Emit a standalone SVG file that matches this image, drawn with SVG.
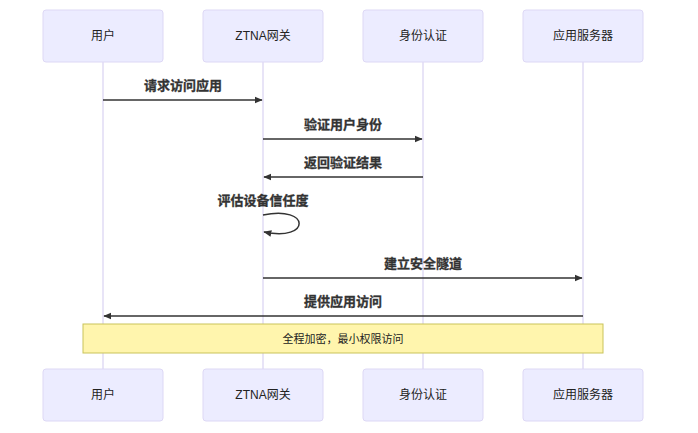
<svg xmlns="http://www.w3.org/2000/svg" width="698" height="433" viewBox="0 0 698 433">
<style>
.actor{fill:#ececff;stroke:#ddd8f5;stroke-width:1}
.lbl{font-family:"Liberation Sans","Noto Sans CJK SC",sans-serif;font-size:12px;fill:#222;text-anchor:middle;dominant-baseline:central}
.life{stroke:#e0dbf5;stroke-width:1.5}
.msg{stroke:#333;stroke-width:1.5;fill:none}
.mt{font-family:"Liberation Sans","Noto Sans CJK SC",sans-serif;font-size:13px;font-weight:bold;fill:#333;stroke:#333;stroke-width:0.3;text-anchor:middle}
.note{fill:#fff5ad;stroke:#c9c35a;stroke-width:1}
</style>
<defs>
<marker id="ah" viewBox="0 0 12 12" refX="11" refY="6" markerWidth="8" markerHeight="8" markerUnits="userSpaceOnUse" orient="auto">
<path d="M0,1 L12,6 L0,11 z" fill="#333"/>
</marker>
</defs>
<g id="lifelines">
<line class="life" x1="103" y1="62" x2="103" y2="369"/>
<line class="life" x1="263" y1="62" x2="263" y2="369"/>
<line class="life" x1="423" y1="62" x2="423" y2="369"/>
<line class="life" x1="583" y1="62" x2="583" y2="369"/>
</g>
<g id="user-top"><rect class="actor" x="43" y="10" width="120" height="52" rx="3"/><text class="lbl" x="103" y="36">用户</text></g>
<g id="ztna-top"><rect class="actor" x="203" y="10" width="120" height="52" rx="3"/><text class="lbl" x="263" y="36">ZTNA网关</text></g>
<g id="auth-top"><rect class="actor" x="363" y="10" width="120" height="52" rx="3"/><text class="lbl" x="423" y="36">身份认证</text></g>
<g id="app-top"><rect class="actor" x="523" y="10" width="120" height="52" rx="3"/><text class="lbl" x="583" y="36">应用服务器</text></g>
<g id="connectors">
<line class="msg" x1="103" y1="100" x2="262" y2="100" marker-end="url(#ah)"/>
<text class="mt" x="183" y="90">请求访问应用</text>
<line class="msg" x1="263" y1="139" x2="422" y2="139" marker-end="url(#ah)"/>
<text class="mt" x="343" y="129">验证用户身份</text>
<line class="msg" x1="423" y1="177" x2="264" y2="177" marker-end="url(#ah)"/>
<text class="mt" x="343" y="167">返回验证结果</text>
<path class="msg" d="M263,215 C311,205 311,242 264,232" marker-end="url(#ah)"/>
<text class="mt" x="263" y="205">评估设备信任度</text>
<line class="msg" x1="263" y1="278" x2="582" y2="278" marker-end="url(#ah)"/>
<text class="mt" x="423" y="268">建立安全隧道</text>
<line class="msg" x1="583" y1="316" x2="104" y2="316" marker-end="url(#ah)"/>
<text class="mt" x="343" y="306">提供应用访问</text>
</g>
<g id="note"><rect class="note" x="83" y="324" width="520" height="29"/><text class="lbl" x="343" y="339" style="font-size:11px">全程加密，最小权限访问</text></g>
<g id="user-bottom"><rect class="actor" x="43" y="369" width="120" height="52" rx="3"/><text class="lbl" x="103" y="395">用户</text></g>
<g id="ztna-bottom"><rect class="actor" x="203" y="369" width="120" height="52" rx="3"/><text class="lbl" x="263" y="395">ZTNA网关</text></g>
<g id="auth-bottom"><rect class="actor" x="363" y="369" width="120" height="52" rx="3"/><text class="lbl" x="423" y="395">身份认证</text></g>
<g id="app-bottom"><rect class="actor" x="523" y="369" width="120" height="52" rx="3"/><text class="lbl" x="583" y="395">应用服务器</text></g>
</svg>
